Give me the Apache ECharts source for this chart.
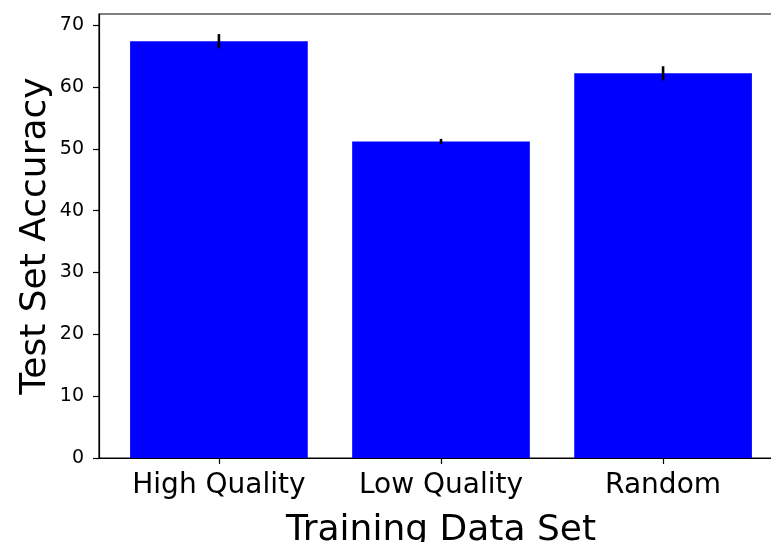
<!DOCTYPE html>
<html>
<head>
<meta charset="utf-8">
<script src="https://cdn.jsdelivr.net/npm/echarts@6/dist/echarts.min.js"></script>
<style>
  html, body { margin: 0; padding: 0; background: #fff; }
  #chart { width: 771px; height: 542px; }
</style>
</head>
<body>
<div id="chart"></div>
<script>
// Accuracy on the test set for each training data set, with error bars
const categories = ['High Quality', 'Low Quality', 'Random'];
const accuracy = [67.4, 51.2, 62.2];
const errors = [1.15, 0.4, 1.15];
const yTicks = [0, 10, 20, 30, 40, 50, 60, 70];

const FONT = 'DejaVu Sans';
const gridLeft = 99, gridRight = -12, gridTop = 14, gridBottom = 84;
const xMin = -0.54, xMax = 2.54;
const plotWidth = 771 - gridLeft - gridRight;
const barWidthPx = 0.8 * plotWidth / (xMax - xMin);

const positions = categories.map((_, i) => i);
const barData = accuracy.map((v, i) => [positions[i], v]);
const errData = accuracy.map((v, i) => [positions[i], v, errors[i]]);

const chart = echarts.init(document.getElementById('chart'), null, { renderer: 'canvas' });
chart.setOption({
  animation: false,
  backgroundColor: '#ffffff',
  grid: {
    left: gridLeft, right: gridRight, top: gridTop, bottom: gridBottom,
    containLabel: false, outerBoundsMode: 'none',
    show: true, borderColor: '#000', borderWidth: 1.2, backgroundColor: 'transparent'
  },
  xAxis: {
    type: 'value',
    min: xMin,
    max: xMax,
    name: 'Training Data Set',
    nameLocation: 'middle',
    nameGap: 55,
    nameTextStyle: { fontFamily: FONT, fontSize: 36, color: '#000' },
    axisLine: { show: true, onZero: false, lineStyle: { color: '#000', width: 1.2 } },
    axisTick: { show: true, length: 6, customValues: positions, lineStyle: { color: '#000', width: 1.2 } },
    axisLabel: {
      customValues: positions,
      formatter: (v) => categories[Math.round(v)] || '',
      fontFamily: FONT, fontSize: 28, color: '#000', margin: 14
    },
    splitLine: { show: false }
  },
  yAxis: {
    type: 'value',
    min: 0,
    max: 71.8,
    interval: 10,
    name: 'Test Set Accuracy',
    nameLocation: 'middle',
    nameGap: 45,
    nameMoveOverlap: false,
    nameTextStyle: { fontFamily: FONT, fontSize: 36, color: '#000' },
    axisLine: { show: true, onZero: false, lineStyle: { color: '#000', width: 1.2 } },
    axisTick: { show: true, length: 6, customValues: yTicks, lineStyle: { color: '#000', width: 1.2 } },
    axisLabel: {
      customValues: yTicks,
      fontFamily: FONT, fontSize: 19, color: '#000', margin: 15
    },
    splitLine: { show: false }
  },
  series: [
    {
      type: 'bar',
      data: barData,
      barWidth: barWidthPx,
      itemStyle: { color: '#0000ff' }
    },
    {
      type: 'custom',
      data: errData,
      z: 5,
      renderItem: (params, api) => {
        const x = api.value(0), v = api.value(1), e = api.value(2);
        const lo = api.coord([x, v - e]);
        const hi = api.coord([x, v + e]);
        return {
          type: 'line',
          shape: { x1: lo[0], y1: lo[1], x2: hi[0], y2: hi[1] },
          style: { stroke: '#000', lineWidth: 2.6 }
        };
      }
    }
  ]
});
</script>
</body>
</html>
